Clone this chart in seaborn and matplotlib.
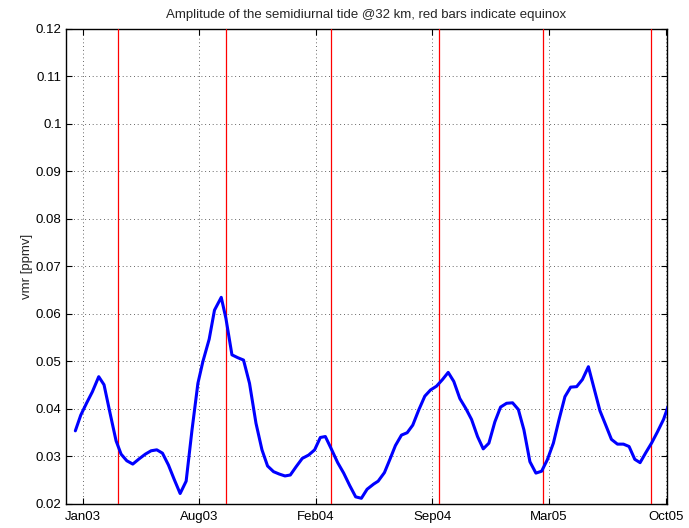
import matplotlib
matplotlib.use("Agg")
import matplotlib.pyplot as plt
import seaborn as sns
import pandas as pd

# Days since the "Jan03" tick (approx. 19 Jan 2003)
days = [-12.7, -3.4, 6.9, 16.5, 27.5, 36.6, 47.0, 57.3, 65.9, 75.7, 86.0, 96.9,
        107.7, 117.5, 127.3, 137.0, 147.3, 157.1, 167.4, 177.7, 187.7, 197.9, 206.5,
        217.3, 226.4, 238.0, 246.0, 256.4, 266.4, 276.3, 286.6, 297.7, 308.0, 317.6,
        327.9, 337.7, 347.5, 356.7, 367.0, 377.3, 388.2, 398.5, 408.3, 416.9, 426.7,
        438.1, 448.4, 458.7, 469.0, 478.8, 488.6, 500.0, 507.6, 518.4, 527.5, 537.3,
        547.7, 557.5, 567.1, 577.4, 587.8, 597.6, 607.9, 618.2, 628.0, 637.6, 648.0,
        658.3, 668.1, 678.4, 688.2, 697.9, 708.2, 718.0, 728.3, 738.6, 748.5, 758.1,
        768.4, 778.7, 788.5, 798.3, 808.7, 818.3, 828.6, 838.4, 848.7, 858.6, 868.9,
        878.5, 888.8, 898.7, 908.5, 918.8, 929.1, 938.8, 948.6, 957.7, 967.5, 977.8,
        987.6, 998.0, 1006.6]
amplitude = [0.0354, 0.0387, 0.0413, 0.0436, 0.0468, 0.0451, 0.0391, 0.0333, 0.0305,
             0.0291, 0.0284, 0.0295, 0.0305, 0.0312, 0.0314, 0.0307, 0.0282, 0.0252,
             0.0222, 0.0248, 0.0355, 0.0454, 0.0500, 0.0547, 0.0608, 0.0635, 0.0591,
             0.0514, 0.0508, 0.0503, 0.0454, 0.0370, 0.0314, 0.0280, 0.0268, 0.0263,
             0.0259, 0.0261, 0.0279, 0.0296, 0.0303, 0.0314, 0.0340, 0.0342, 0.0317,
             0.0287, 0.0265, 0.0239, 0.0215, 0.0212, 0.0231, 0.0242, 0.0248, 0.0266,
             0.0293, 0.0323, 0.0345, 0.0350, 0.0366, 0.0398, 0.0427, 0.0440, 0.0448,
             0.0462, 0.0477, 0.0458, 0.0422, 0.0401, 0.0378, 0.0342, 0.0316, 0.0328,
             0.0373, 0.0404, 0.0412, 0.0413, 0.0399, 0.0356, 0.0289, 0.0265, 0.0269,
             0.0293, 0.0328, 0.0377, 0.0426, 0.0446, 0.0447, 0.0462, 0.0489, 0.0444,
             0.0396, 0.0366, 0.0336, 0.0326, 0.0326, 0.0321, 0.0294, 0.0287, 0.0308,
             0.0329, 0.0352, 0.0378, 0.0408]

# Equinoxes (days since reference): Mar03, Sep03, Mar04, Sep04, Mar05, Sep05
equinox_days = [61, 247, 426, 612, 791, 977]

tick_days = [0, 200.3, 400.6, 600.9, 801.2, 1001.5]
tick_labels = ["Jan03", "Aug03", "Feb04", "Sep04", "Mar05", "Oct05"]
y_ticks = [0.02, 0.03, 0.04, 0.05, 0.06, 0.07, 0.08, 0.09, 0.1, 0.11, 0.12]
y_tick_labels = ["0.02", "0.03", "0.04", "0.05", "0.06", "0.07", "0.08", "0.09", "0.1", "0.11", "0.12"]

sns.set_style("white")
plt.rcParams["font.family"] = ["Liberation Sans", "DejaVu Sans"]

fig = plt.figure(figsize=(6.89, 5.28), dpi=100)
ax = fig.add_axes([0.0954, 0.0455, 0.8722, 0.8996])

df = pd.DataFrame({"day": days, "amp": amplitude})

for d in equinox_days:
    ax.axvline(d, color="red", lw=0.9, zorder=3)

sns.lineplot(data=df, x="day", y="amp", ax=ax, color="blue", lw=2.2,
             estimator=None, sort=False, zorder=4)

ax.set_xlim(-29.2, 1003.4)
ax.set_ylim(0.02, 0.12)
ax.set_xticks(tick_days)
ax.set_xticklabels(tick_labels)
ax.set_yticks(y_ticks)
ax.set_yticklabels(y_tick_labels)

ax.grid(True, color="#333333", linestyle=(0, (1, 3.5)), linewidth=0.6, zorder=1)
ax.tick_params(direction="in", length=4, width=0.8, top=True, right=True,
               bottom=True, left=True, labelsize=9.5, colors="black")
ax.tick_params(axis="x", pad=5)
ax.tick_params(axis="y", pad=3)
for s in ax.spines.values():
    s.set_visible(True)
    s.set_color("black")
    s.set_linewidth(1.0)

ax.set_xlabel("")
ax.set_ylabel("vmr [ppmv]", fontsize=9.5, labelpad=2)
ax.set_title("Amplitude of the semidiurnal tide @32 km, red bars indicate equinox",
             fontsize=9.5, pad=8)

fig.savefig("out.png", dpi=100)
